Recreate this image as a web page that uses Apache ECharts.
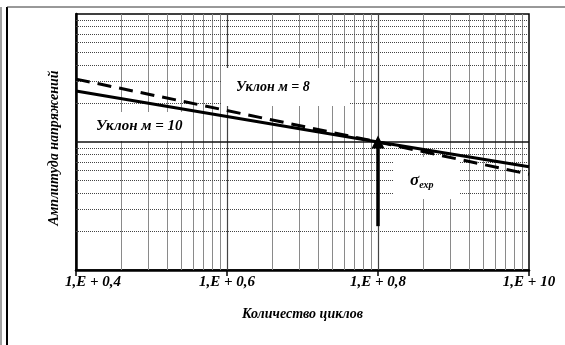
<!DOCTYPE html>
<html>
<head>
<meta charset="utf-8">
<script src="https://cdn.jsdelivr.net/npm/echarts@6/dist/echarts.min.js"></script>
<style>
html, body { margin: 0; padding: 0; background: #fff; }
#chart { width: 565px; height: 345px; }
</style>
</head>
<body>
<div id="chart"></div>
<script>
// cycles (x, log) and stress amplitude (y, log)
const xDecades = [1e7, 1e8, 1e9, 1e10]
const xTickLabels = ['1,E + 0,4', '1,E + 0,6', '1,E + 0,8', '1,E + 10']
const yDecades = [10, 100, 1000]
const minorSteps = [2, 3, 4, 5, 6, 7, 8, 9]

// slope m = 10 (solid) and m = 8 (dashed)
const slope10X = [1e7, 1e9, 1e10]
const slope10Y = [250, 100, 64]
const slope8X = [1e7, 1e9, 1e10]
const slope8Y = [310, 100, 56]

// sigma_exp arrow
const arrowX = 1e9
const arrowY = [22, 100]

const serif = 'Liberation Serif'

const minorOf = (decades) => {
  const out = []
  for (let i = 0; i < decades.length - 1; i++) {
    minorSteps.forEach(k => out.push(decades[i] * k))
  }
  return out
}

const xMinor = minorOf(xDecades)
const yMinor = minorOf(yDecades)
const xInner = xDecades.slice(1, -1)
const yInner = yDecades.slice(1, -1)

const chart = echarts.init(document.getElementById('chart'))

const option = {
  animation: false,
  grid: {
    left: 76,
    right: 36,
    top: 14,
    bottom: 75,
    show: true,
    borderColor: '#000',
    borderWidth: 1.5
  },
  xAxis: {
    type: 'log',
    logBase: 10,
    min: xDecades[0],
    max: xDecades[xDecades.length - 1],
    name: 'Количество циклов',
    nameLocation: 'middle',
    nameGap: 37,
    nameTextStyle: {
      fontFamily: serif,
      fontWeight: 'bold',
      fontStyle: 'italic',
      fontSize: 14,
      color: '#000'
    },
    axisLine: { lineStyle: { color: '#000', width: 2.5 } },
    axisTick: { show: true, length: 6, lineStyle: { color: '#000', width: 1.5 } },
    axisLabel: {
      margin: 5,
      formatter: (v) => {
        const i = Math.round(Math.log10(v) - Math.log10(xDecades[0]))
        return i === 0 ? '{first|' + xTickLabels[i] + '}' : '{n|' + xTickLabels[i] + '}'
      },
      rich: {
        first: {
          fontFamily: serif, fontWeight: 'bold', fontStyle: 'italic', fontSize: 15, color: '#000',
          padding: [0, 0, 0, 34]
        },
        n: { fontFamily: serif, fontWeight: 'bold', fontStyle: 'italic', fontSize: 15, color: '#000' }
      }
    },
    splitLine: { show: false }
  },
  yAxis: {
    type: 'log',
    logBase: 10,
    min: yDecades[0],
    max: yDecades[yDecades.length - 1],
    name: 'Амплитуда напряжений',
    nameLocation: 'middle',
    nameGap: 15,
    nameTextStyle: {
      fontFamily: serif,
      fontWeight: 'bold',
      fontStyle: 'italic',
      fontSize: 14,
      color: '#000',
      padding: [0, 12, 0, 0]
    },
    axisLine: { lineStyle: { color: '#000', width: 2.5 } },
    axisTick: { show: false },
    axisLabel: { show: false },
    splitLine: { show: false }
  },
  series: [
    {
      // grid lines
      type: 'line',
      data: [],
      z: 1,
      silent: true,
      markLine: {
        silent: true,
        z: 1,
        symbol: ['none', 'none'],
        label: { show: false },
        animation: false,
        data: [
          ...xMinor.map(v => ({ xAxis: v, lineStyle: { color: '#8a8a8a', width: 1, type: 'solid' } })),
          ...yMinor.map(v => ({ yAxis: v, lineStyle: { color: '#444', width: 1, type: 'dotted' } })),
          ...xInner.map(v => ({ xAxis: v, lineStyle: { color: '#444', width: 1.2, type: 'solid' } })),
          ...yInner.map(v => ({ yAxis: v, lineStyle: { color: '#111', width: 1.5, type: 'solid' } }))
        ]
      }
    },
    {
      name: 'm = 8',
      type: 'line',
      z: 100,
      symbol: 'none',
      data: slope8X.map((x, i) => [x, slope8Y[i]]),
      lineStyle: { color: '#000', width: 3, type: [14, 8] }
    },
    {
      name: 'm = 10',
      type: 'line',
      z: 101,
      symbol: 'none',
      data: slope10X.map((x, i) => [x, slope10Y[i]]),
      lineStyle: { color: '#000', width: 3 },
      markLine: {
        silent: true,
        z: 101,
        symbol: ['none', 'triangle'],
        symbolSize: 13,
        symbolOffset: [-5, 0],
        label: { show: false },
        animation: false,
        lineStyle: { color: '#000', width: 3.5, type: 'solid' },
        data: [[{ coord: [arrowX, arrowY[0]] }, { coord: [arrowX, arrowY[1]] }]]
      }
    }
  ],
  graphic: [
    // outer frame
    { type: 'line', z: 50, shape: { x1: 7, y1: 7, x2: 7, y2: 345 }, style: { stroke: '#000', lineWidth: 2 } },
    { type: 'line', z: 50, shape: { x1: 1, y1: 7, x2: 1, y2: 345 }, style: { stroke: '#444', lineWidth: 1 } },
    { type: 'line', z: 50, shape: { x1: 7, y1: 7, x2: 565, y2: 7 }, style: { stroke: '#333', lineWidth: 1 } },
    // white boxes behind labels
    { type: 'rect', z: 50, shape: { x: 222, y: 68, width: 128, height: 38 }, style: { fill: '#fff' } },
    { type: 'rect', z: 50, shape: { x: 78, y: 112, width: 110, height: 29 }, style: { fill: '#fff' } },
    { type: 'rect', z: 50, shape: { x: 394, y: 157, width: 66, height: 42 }, style: { fill: '#fff' } },
    // labels
    {
      type: 'text', z: 60, x: 236, y: 80,
      style: { text: 'Уклон м = 8', font: 'italic bold 14px "Liberation Serif"', fill: '#000' }
    },
    {
      type: 'text', z: 60, x: 96, y: 119,
      style: { text: 'Уклон м = 10', font: 'italic bold 15px "Liberation Serif"', fill: '#000' }
    },
    {
      type: 'text', z: 60, x: 410, y: 171,
      style: {
        text: '{s|σ}{e|exp}',
        rich: {
          s: { font: 'italic bold 17px "Liberation Serif"', fill: '#000' },
          e: { font: 'italic bold 10px "Liberation Serif"', fill: '#000', padding: [9, 0, 0, 0] }
        }
      }
    }
  ]
}

chart.setOption(option)
</script>
</body>
</html>
